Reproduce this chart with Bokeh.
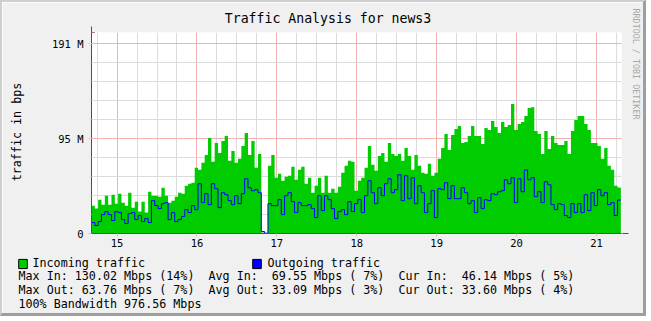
import math
from bokeh.plotting import figure
from bokeh.models import (FixedTicker, Label, Arrow, NormalHead, Range1d)
from bokeh.embed import file_html
from bokeh.resources import INLINE

# ---------------- data ----------------
first_day = 14.68          # day of month of the first sample
sample_hours = 1.0         # one sample per hour

incoming = [28, 25, 34, 29, 38, 29, 39, 30, 40, 31, 28, 41, 26, 32, 22, 32, 21, 42, 38, 38,
            37, 46, 38, 31, 33, 37, 41, 40, 48, 50, 51, 66, 64, 71, 79, 96, 72, 91, 81, 93,
            98, 73, 83, 71, 75, 88, 101, 79, 93, 66, 80, 1, 0.5, 68, 79, 56, 60, 53, 57, 58,
            67, 54, 64, 67, 50, 56, 41, 48, 56, 41, 58, 41, 45, 41, 47, 61, 68, 73, 72, 43,
            53, 56, 66, 88, 69, 63, 78, 81, 72, 91, 80, 78, 80, 73, 86, 78, 64, 79, 68, 61,
            60, 70, 58, 61, 75, 86, 100, 84, 99, 105, 108, 91, 92, 98, 108, 98, 98, 90, 106, 104,
            113, 107, 101, 112, 107, 109, 130.02, 104, 110, 112, 118, 126, 127, 103, 100, 80, 103, 85, 98, 91,
            89, 89, 93, 80, 103, 114, 118, 118, 110, 104, 91, 91, 88, 75, 86, 68, 64, 48, 46.14]

outgoing = [11, 8, 12, 19, 22, 19, 13, 22, 21, 14, 10, 20, 21, 14, 18, 12, 15, 11, 33, 28,
            25, 30, 31, 14, 21, 12, 14, 17, 24, 21, 28, 24, 50, 31, 40, 29, 50, 45, 26, 41,
            39, 33, 29, 38, 30, 40, 55, 46, 43, 44, 41, 2, 0.3, 30, 28, 28, 34, 19, 38, 41,
            32, 21, 31, 28, 28, 29, 25, 16, 38, 23, 38, 34, 25, 15, 22, 24, 19, 32, 22, 30,
            34, 21, 38, 53, 41, 30, 46, 38, 50, 55, 41, 44, 59, 33, 58, 35, 56, 30, 48, 41,
            21, 30, 43, 16, 45, 44, 51, 35, 48, 35, 35, 46, 41, 30, 33, 21, 36, 25, 34, 33,
            40, 39, 42, 43, 54, 50, 56, 31, 55, 42, 63.76, 54, 56, 37, 42, 31, 52, 49, 29, 24,
            30, 29, 18, 16, 30, 21, 30, 21, 39, 23, 41, 28, 44, 38, 41, 29, 31, 18, 33.60]

day_ticks = [15, 16, 17, 18, 19, 20, 21]
y_tick_values = [0, 95.367431640625, 190.73486328125]      # 0, 100e6 and 200e6 bps in Mi
y_tick_labels = ["0", "95 M", "191 M"]
y_minor_step = 19.073486328125                             # 20e6 bps in Mi

title_text = "Traffic Analysis for news3"
y_label_text = "traffic in bps"
watermark = "RRDTOOL / TOBI OETIKER"
legend_names = ["Incoming traffic", "Outgoing traffic"]
stat_rows = [
    "Max In: 130.02 Mbps (14%)  Avg In:  69.55 Mbps ( 7%)  Cur In:  46.14 Mbps ( 5%)",
    "Max Out: 63.76 Mbps ( 7%)  Avg Out: 33.09 Mbps ( 3%)  Cur Out: 33.60 Mbps ( 4%)",
    "100% Bandwidth 976.56 Mbps",
]

# ---------------- styling ----------------
GREEN = "#00cc00"
BLUE = "#0000ff"
BACK = "#f0f0f0"
MGRID = "#f4b0b0"
GRID = "#dcdcdc"
AXIS = "#505050"
ARROW = "#8b1a1a"
FONT = "DejaVu Sans Mono"

OX, OY = 2, 2          # offset of the canvas inside the window (shaded frame)
DY = -1.5              # text baseline correction

x0, x1 = 14.680, 21.313
y0, y1 = 0, 202

n = len(incoming)
edges = [first_day + i * sample_hours / 24.0 for i in range(n + 1)]
inc_ext = incoming + [incoming[-1]]
out_ext = outgoing + [outgoing[-1]]

p = figure(width=646, height=316, x_range=Range1d(x0, x1), y_range=Range1d(y0, y1),
           output_backend="svg", toolbar_location=None, title=None,
           min_border_left=89, min_border_right=27, min_border_top=30, min_border_bottom=85,
           background_fill_color="white", border_fill_color=BACK)
p.styles = {"border-style": "solid", "border-width": "2px 3px 3px 2px",
            "border-color": "#cfcfcf #9e9e9e #9e9e9e #cfcfcf"}
p.outline_line_color = None

p.varea_step(x=edges, y1=[0] * (n + 1), y2=inc_ext, step_mode="after", fill_color=GREEN)
p.step(x=edges, y=out_ext, mode="after", line_color=BLUE, line_width=1)

# grids
minor_x = [d + q for d in range(14, 22) for q in (0.25, 0.5, 0.75) if x0 < d + q < x1]
minor_y = [y_minor_step * k for k in range(1, 11)]
p.xaxis.ticker = FixedTicker(ticks=day_ticks, minor_ticks=minor_x)
p.yaxis.ticker = FixedTicker(ticks=y_tick_values, minor_ticks=minor_y)
p.xgrid.ticker = p.xaxis.ticker
p.ygrid.ticker = p.yaxis.ticker
for g in (p.xgrid, p.ygrid):
    g.grid_line_color = MGRID
    g.grid_line_width = 1
    g.minor_grid_line_color = GRID
    g.minor_grid_line_width = 1

p.yaxis.major_label_overrides = {v: t for v, t in zip(y_tick_values, y_tick_labels)}

for ax in (p.xaxis, p.yaxis):
    ax.axis_line_color = AXIS
    ax.major_tick_line_color = MGRID
    ax.major_tick_out = 3
    ax.major_tick_in = 0
    ax.minor_tick_in = 0
    ax.major_label_text_font = FONT
    ax.major_label_text_font_size = "10.5px"
    ax.major_label_text_color = "black"
p.xaxis.minor_tick_out = 0
p.yaxis.minor_tick_out = 2
p.yaxis.minor_tick_line_color = GRID
p.xaxis.major_label_standoff = 2
p.yaxis.major_label_standoff = 5

# axis arrows (in a side panel, so that they are not clipped to the frame)
dx_px = (x1 - x0) / 530.0
dy_px = (y1 - y0) / 201.0
p.add_layout(Arrow(end=NormalHead(size=6, fill_color=ARROW, line_color=ARROW),
                   x_start=x1, y_start=0, x_end=x1 + 7 * dx_px, y_end=0,
                   line_color=AXIS, line_width=1), "right")
p.add_layout(Arrow(end=NormalHead(size=6, fill_color=ARROW, line_color=ARROW),
                   x_start=x0, y_start=y1, x_end=x0, y_end=y1 + 6 * dy_px,
                   line_color=AXIS, line_width=1), "right")


def lab(text, X, Y, side, size="11.7px", align="left", angle=0.0, color="black", **kw):
    # X, Y: window pixels from the top-left corner
    p.add_layout(Label(x=X - OX, y=Y - OY + DY, x_units="canvas", y_units="canvas", text=text,
                       text_font=FONT, text_font_size=size, text_align=align,
                       text_baseline="middle", angle=angle, text_color=color, **kw), side)


def swatch(color, X, Y):
    # legend colour box centred on window pixel (X, Y)
    p.add_layout(Label(x=X - OX, y=Y - OY, x_units="canvas", y_units="canvas", text="\u00a0",
                       text_font=FONT, text_font_size="1px", text_align="center",
                       text_baseline="middle", padding=4,
                       background_fill_color=color, background_fill_alpha=1.0,
                       border_line_color="black", border_line_width=1), "left")


lab(title_text, 325.5, 17, "above", size="13.2px", align="center")
lab(legend_names[1], 265, 261.5, "above")
lab(watermark, 633, 63, "right", size="8.4px", align="center", angle=-math.pi / 2,
    color="#a8a8a8")
lab(y_label_text, 14, 131, "left", align="center", angle=math.pi / 2)
# keep the padded spaces of the statistics (SVG text would collapse plain runs of spaces)
stats_text = "\n".join(r.replace("  ", " \u00a0") for r in stat_rows)
lab(stats_text, 16, 289, "below", text_line_height=1.0)
lab(legend_names[0], 30, 261.5, "below")
swatch(GREEN, 20.5, 261.5)
swatch(BLUE, 254.5, 261.5)

open("out.html", "w").write(file_html(p, INLINE))
